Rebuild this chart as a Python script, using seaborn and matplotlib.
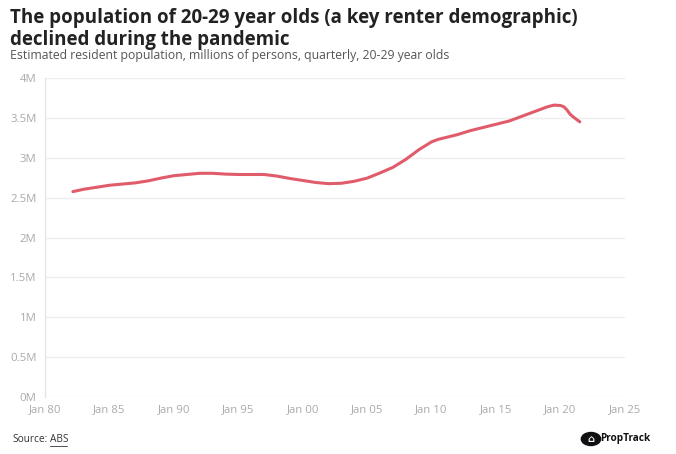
import numpy as np
import pandas as pd
import matplotlib.pyplot as plt
import seaborn as sns

# data (millions of persons, 20-29 year olds)
dates = ["1982-03", "1983-01", "1984-01", "1985-01", "1986-01", "1987-01", "1988-01",
         "1989-01", "1990-01", "1991-01", "1992-01", "1993-01", "1994-01", "1995-01",
         "1996-01", "1997-01", "1998-01", "1999-01", "2000-01", "2001-01", "2002-01",
         "2003-01", "2004-01", "2005-01", "2006-01", "2007-01", "2008-01", "2009-01",
         "2010-01", "2010-07", "2011-01", "2012-01", "2013-01", "2014-01", "2015-01",
         "2016-01", "2017-01", "2018-01", "2019-01", "2019-07", "2020-01", "2020-04",
         "2020-07", "2020-10", "2021-01", "2021-04", "2021-07"]
population = [2.575, 2.605, 2.630, 2.655, 2.670, 2.685, 2.710,
              2.745, 2.775, 2.790, 2.805, 2.805, 2.795, 2.790,
              2.790, 2.790, 2.770, 2.740, 2.715, 2.690, 2.675,
              2.680, 2.705, 2.745, 2.810, 2.880, 2.980, 3.100,
              3.200, 3.230, 3.250, 3.290, 3.340, 3.380, 3.420,
              3.460, 3.520, 3.580, 3.640, 3.660, 3.655, 3.640,
              3.600, 3.545, 3.510, 3.480, 3.450]

y_ticks = [0, 0.5, 1, 1.5, 2, 2.5, 3, 3.5, 4]
y_labels = ["0M", "0.5M", "1M", "1.5M", "2M", "2.5M", "3M", "3.5M", "4M"]
x_years = list(range(1980, 2026, 5))
x_labels = ["Jan 80", "Jan 85", "Jan 90", "Jan 95", "Jan 00", "Jan 05",
            "Jan 10", "Jan 15", "Jan 20", "Jan 25"]

df = pd.DataFrame({"date": pd.to_datetime(dates), "population": population})

sns.set_theme(style="white")
plt.rcParams["font.family"] = ["Open Sans", "DejaVu Sans"]

fig = plt.figure(figsize=(6.76, 4.54), dpi=100)
ax = fig.add_axes([45 / 676, 1 - 397 / 454, 580 / 676, 319 / 454])

sns.lineplot(data=df, x="date", y="population", ax=ax, color="#e05c6b", linewidth=2.2)

ax.set_xlim(pd.Timestamp("1980-01-01"), pd.Timestamp("2025-01-01"))
ax.set_ylim(0, 4)
ax.set_yticks(y_ticks)
ax.set_yticklabels(y_labels)
ax.set_xticks([pd.Timestamp(f"{y}-01-01") for y in x_years])
ax.set_xticklabels(x_labels)
ax.tick_params(axis="both", length=0, labelsize=8.2, labelcolor="#aaaaaa")
ax.tick_params(axis="x", pad=5)
ax.tick_params(axis="y", pad=6)
ax.yaxis.grid(True, color="#eeeeee", linewidth=1)
ax.set_xlabel("")
ax.set_ylabel("")
for s in ["top", "right", "bottom"]:
    ax.spines[s].set_visible(False)
ax.spines["left"].set_color("#e6e6e6")
ax.spines["left"].set_linewidth(1)

fig.text(10 / 676, 1 - 8 / 454,
         "The population of 20-29 year olds (a key renter demographic)\ndeclined during the pandemic",
         ha="left", va="top", fontsize=13.5, fontweight="bold", color="#222222", linespacing=1.1)
fig.text(10 / 676, 1 - 55 / 454,
         "Estimated resident population, millions of persons, quarterly, 20-29 year olds",
         ha="left", va="center", fontsize=8.8, color="#555555")

fig.text(12 / 676, 1 - 440 / 454, "Source:", ha="left", va="center", fontsize=7.3, color="#333333")
fig.text(50 / 676, 1 - 440 / 454, "ABS", ha="left", va="center", fontsize=7.3, color="#333333")
fig.lines.append(plt.Line2D([50 / 676, 67 / 676], [1 - 446 / 454, 1 - 446 / 454],
                            transform=fig.transFigure, color="#333333", linewidth=0.6))

# PropTrack logo
fig.patches.append(plt.Circle((591 / 676, 1 - 439 / 454), 6.5 / 454, transform=fig.transFigure,
                              color="#111111"))
fig.text(591 / 676, 1 - 439 / 454, "⌂", ha="center", va="center", fontsize=7, color="white",
         fontweight="bold")
fig.text(600 / 676, 1 - 439 / 454, "PropTrack", ha="left", va="center", fontsize=7.2,
         fontweight="bold", color="#111111")

fig.savefig("out.png", dpi=100)
